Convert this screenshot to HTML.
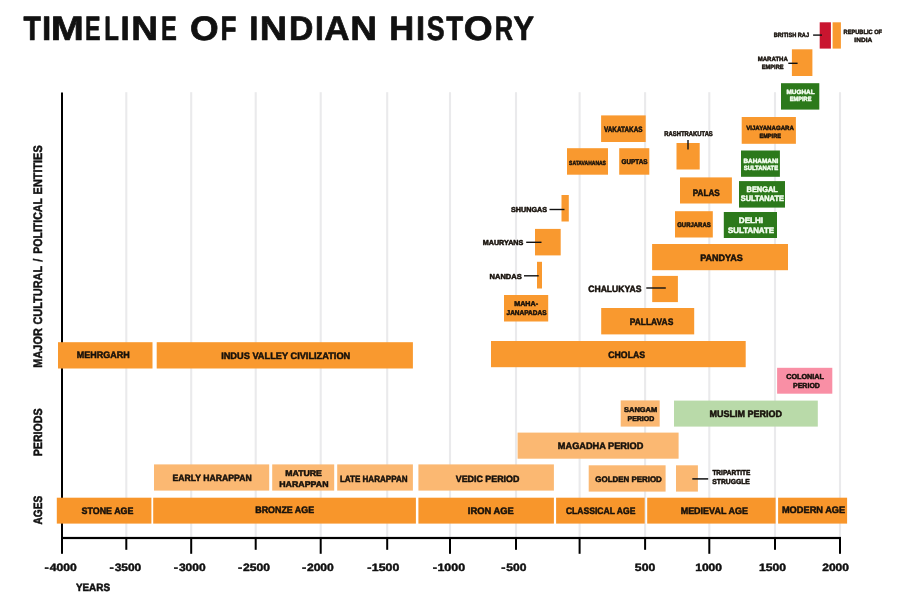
<!DOCTYPE html>
<html lang="en"><head><meta charset="utf-8"><title>Timeline of Indian History</title>
<style>html,body{margin:0;padding:0;background:#fff}body{width:900px;height:606px;overflow:hidden}svg{display:block}text{font-family:"Liberation Sans",sans-serif;font-weight:bold;stroke-linejoin:round;text-rendering:geometricPrecision}</style></head><body>
<svg width="900" height="606" viewBox="0 0 900 606">
<rect width="900" height="606" fill="#fff"/>
<g fill="#eaeaec">
<rect x="125.25" y="92.2" width="2.1" height="445"/>
<rect x="190.15" y="92.2" width="2.1" height="445"/>
<rect x="254.65" y="92.2" width="2.1" height="445"/>
<rect x="319.65" y="92.2" width="2.1" height="445"/>
<rect x="386.15" y="92.2" width="2.1" height="445"/>
<rect x="448.95" y="92.2" width="2.1" height="445"/>
<rect x="514.95" y="92.2" width="2.1" height="445"/>
<rect x="578.55" y="92.2" width="2.1" height="445"/>
<rect x="644.05" y="92.2" width="2.1" height="445"/>
<rect x="708.25" y="92.2" width="2.1" height="445"/>
<rect x="773.95" y="92.2" width="2.1" height="445"/>
<rect x="838.95" y="92.2" width="2.1" height="445"/>
</g>
<g fill="#000">
<rect x="61" y="92.5" width="2" height="461.3"/>
<rect x="61" y="536.9" width="780" height="2.2"/>
<rect x="125.30" y="538.5" width="2" height="11.3"/>
<rect x="190.20" y="538.5" width="2" height="15.3"/>
<rect x="254.70" y="538.5" width="2" height="11.3"/>
<rect x="319.70" y="538.5" width="2" height="15.3"/>
<rect x="386.20" y="538.5" width="2" height="11.3"/>
<rect x="449.00" y="538.5" width="2" height="15.3"/>
<rect x="515.00" y="538.5" width="2" height="11.3"/>
<rect x="578.60" y="538.5" width="2" height="15.3"/>
<rect x="644.10" y="538.5" width="2" height="11.3"/>
<rect x="708.30" y="538.5" width="2" height="15.3"/>
<rect x="774.00" y="538.5" width="2" height="11.3"/>
<rect x="839.00" y="538.5" width="2" height="15.3"/>
</g>
<rect x="56.80" y="497.70" width="94.60" height="25.90" fill="#F8962B"/>
<rect x="153.20" y="497.70" width="262.70" height="25.90" fill="#F8962B"/>
<rect x="418.40" y="497.70" width="135.50" height="25.90" fill="#F8962B"/>
<rect x="556.10" y="497.70" width="88.60" height="25.90" fill="#F8962B"/>
<rect x="647.20" y="497.70" width="128.40" height="25.90" fill="#F8962B"/>
<rect x="778.10" y="497.70" width="69.00" height="25.90" fill="#F8962B"/>
<rect x="154.00" y="464.40" width="115.20" height="26.20" fill="#FBB872"/>
<rect x="272.20" y="464.40" width="62.00" height="26.20" fill="#FBB872"/>
<rect x="337.20" y="464.40" width="75.70" height="26.20" fill="#FBB872"/>
<rect x="418.40" y="464.40" width="135.50" height="26.20" fill="#FBB872"/>
<rect x="588.70" y="465.30" width="76.90" height="26.30" fill="#FBB872"/>
<rect x="676.00" y="465.30" width="21.90" height="26.30" fill="#FBB872"/>
<rect x="517.60" y="432.60" width="161.00" height="26.10" fill="#FBB872"/>
<rect x="620.70" y="400.40" width="39.00" height="26.20" fill="#FBB872"/>
<rect x="674.00" y="400.60" width="143.80" height="26.00" fill="#B9DAA9"/>
<rect x="777.10" y="367.80" width="55.20" height="25.90" fill="#F98FA5"/>
<rect x="58.00" y="342.20" width="94.50" height="26.30" fill="#F9992F"/>
<rect x="156.70" y="342.20" width="256.20" height="26.30" fill="#F9992F"/>
<rect x="491.00" y="341.00" width="254.70" height="26.20" fill="#F9992F"/>
<rect x="601.20" y="308.00" width="93.00" height="26.40" fill="#F9992F"/>
<rect x="504.00" y="295.00" width="44.20" height="26.50" fill="#F9992F"/>
<rect x="652.20" y="275.90" width="25.70" height="26.20" fill="#F9992F"/>
<rect x="537.00" y="261.80" width="5.00" height="26.70" fill="#F9992F"/>
<rect x="652.10" y="244.00" width="135.90" height="26.20" fill="#F9992F"/>
<rect x="535.00" y="228.90" width="25.70" height="26.50" fill="#F9992F"/>
<rect x="675.00" y="211.20" width="37.80" height="26.30" fill="#F9992F"/>
<rect x="723.80" y="212.00" width="53.20" height="26.00" fill="#2C791B"/>
<rect x="561.50" y="195.00" width="7.30" height="26.50" fill="#F9992F"/>
<rect x="680.00" y="177.40" width="51.90" height="26.10" fill="#F9992F"/>
<rect x="739.00" y="181.10" width="46.00" height="26.50" fill="#2C791B"/>
<rect x="567.00" y="148.20" width="41.00" height="26.50" fill="#F9992F"/>
<rect x="619.20" y="148.20" width="30.10" height="26.50" fill="#F9992F"/>
<rect x="676.50" y="143.00" width="23.20" height="26.50" fill="#F9992F"/>
<rect x="741.00" y="150.50" width="38.90" height="26.30" fill="#2C791B"/>
<rect x="601.10" y="115.40" width="44.60" height="26.60" fill="#F9992F"/>
<rect x="741.70" y="117.00" width="54.20" height="26.80" fill="#F9992F"/>
<rect x="781.00" y="83.20" width="38.30" height="26.40" fill="#2C791B"/>
<rect x="791.90" y="49.30" width="20.50" height="26.70" fill="#F9992F"/>
<rect x="819.70" y="22.30" width="11.20" height="26.30" fill="#C9152F"/>
<rect x="832.60" y="22.30" width="8.30" height="26.30" fill="#F9992F"/>
<g stroke="#111" fill="none">
<line x1="813.1" y1="35.1" x2="822" y2="35.1" stroke-width="1.4"/>
<line x1="788.3" y1="63.3" x2="797.6" y2="63.3" stroke-width="1.4"/>
<line x1="688" y1="140" x2="688" y2="149.5" stroke-width="1.4"/>
<line x1="549.5" y1="209.5" x2="564.5" y2="209.5" stroke-width="1.4"/>
<line x1="526.2" y1="242.3" x2="541.5" y2="242.3" stroke-width="1.4"/>
<line x1="524" y1="275.8" x2="538.7" y2="275.8" stroke-width="1.4"/>
<line x1="646.3" y1="288" x2="665.8" y2="288" stroke-width="1.4"/>
<line x1="692.3" y1="478.9" x2="708.2" y2="478.9" stroke-width="1.5"/>
</g>
<g style="filter:grayscale(0)">
<text y="40.45" font-size="33.87" fill="#111" stroke="#111" stroke-width="0.7"><tspan x="23.53" textLength="17.43" lengthAdjust="spacingAndGlyphs">T</tspan><tspan x="42.12" textLength="9.26" lengthAdjust="spacingAndGlyphs">I</tspan><tspan x="50.69" textLength="33.12" lengthAdjust="spacingAndGlyphs">M</tspan><tspan x="84.99" textLength="15.57" lengthAdjust="spacingAndGlyphs">E</tspan><tspan x="104.25" textLength="14.64" lengthAdjust="spacingAndGlyphs">L</tspan><tspan x="120.62" textLength="9.26" lengthAdjust="spacingAndGlyphs">I</tspan><tspan x="131.37" textLength="26.78" lengthAdjust="spacingAndGlyphs">N</tspan><tspan x="160.96" textLength="15.81" lengthAdjust="spacingAndGlyphs">E</tspan> <tspan x="190.04" textLength="28.66" lengthAdjust="spacingAndGlyphs">O</tspan><tspan x="220.40" textLength="16.01" lengthAdjust="spacingAndGlyphs">F</tspan> <tspan x="249.32" textLength="9.26" lengthAdjust="spacingAndGlyphs">I</tspan><tspan x="259.81" textLength="27.39" lengthAdjust="spacingAndGlyphs">N</tspan><tspan x="288.89" textLength="24.38" lengthAdjust="spacingAndGlyphs">D</tspan><tspan x="314.91" textLength="8.87" lengthAdjust="spacingAndGlyphs">I</tspan><tspan x="324.28" textLength="25.30" lengthAdjust="spacingAndGlyphs">A</tspan><tspan x="350.37" textLength="26.78" lengthAdjust="spacingAndGlyphs">N</tspan> <tspan x="389.24" textLength="24.94" lengthAdjust="spacingAndGlyphs">H</tspan><tspan x="415.97" textLength="9.07" lengthAdjust="spacingAndGlyphs">I</tspan><tspan x="426.78" textLength="17.92" lengthAdjust="spacingAndGlyphs">S</tspan><tspan x="446.24" textLength="16.91" lengthAdjust="spacingAndGlyphs">T</tspan><tspan x="463.83" textLength="28.88" lengthAdjust="spacingAndGlyphs">O</tspan><tspan x="494.85" textLength="18.32" lengthAdjust="spacingAndGlyphs">R</tspan><tspan x="513.62" textLength="20.52" lengthAdjust="spacingAndGlyphs">Y</tspan></text>
<text x="81.59" y="513.65" font-size="9.45" fill="#17110b" stroke="#17110b" stroke-width="0.5" textLength="51.80" lengthAdjust="spacingAndGlyphs">STONE AGE</text>
<text x="255.26" y="512.55" font-size="9.45" fill="#17110b" stroke="#17110b" stroke-width="0.5" textLength="58.84" lengthAdjust="spacingAndGlyphs">BRONZE AGE</text>
<text x="467.82" y="513.75" font-size="9.45" fill="#17110b" stroke="#17110b" stroke-width="0.5" textLength="45.89" lengthAdjust="spacingAndGlyphs">IRON AGE</text>
<text x="565.90" y="513.75" font-size="9.45" fill="#17110b" stroke="#17110b" stroke-width="0.5" textLength="69.49" lengthAdjust="spacingAndGlyphs">CLASSICAL AGE</text>
<text x="680.65" y="513.65" font-size="9.45" fill="#17110b" stroke="#17110b" stroke-width="0.5" textLength="67.25" lengthAdjust="spacingAndGlyphs">MEDIEVAL AGE</text>
<text x="781.93" y="512.55" font-size="9.45" fill="#17110b" stroke="#17110b" stroke-width="0.5" textLength="63.28" lengthAdjust="spacingAndGlyphs">MODERN AGE</text>
<text x="172.57" y="481.45" font-size="9.16" fill="#17110b" stroke="#17110b" stroke-width="0.5" textLength="79.06" lengthAdjust="spacingAndGlyphs">EARLY HARAPPAN</text>
<text x="285.27" y="475.85" font-size="8.28" fill="#17110b" stroke="#17110b" stroke-width="0.5" textLength="36.62" lengthAdjust="spacingAndGlyphs">MATURE</text>
<text x="279.26" y="486.65" font-size="8.28" fill="#17110b" stroke="#17110b" stroke-width="0.5" textLength="49.28" lengthAdjust="spacingAndGlyphs">HARAPPAN</text>
<text x="339.91" y="481.50" font-size="9.01" fill="#17110b" stroke="#17110b" stroke-width="0.5" textLength="67.68" lengthAdjust="spacingAndGlyphs">LATE HARAPPAN</text>
<text x="455.79" y="481.55" font-size="9.16" fill="#17110b" stroke="#17110b" stroke-width="0.5" textLength="63.63" lengthAdjust="spacingAndGlyphs">VEDIC PERIOD</text>
<text x="595.33" y="481.50" font-size="8.14" fill="#17110b" stroke="#17110b" stroke-width="0.5" textLength="66.46" lengthAdjust="spacingAndGlyphs">GOLDEN PERIOD</text>
<text x="712.38" y="475.35" font-size="7.12" fill="#17110b" stroke="#17110b" stroke-width="0.5" textLength="37.93" lengthAdjust="spacingAndGlyphs">TRIPARTITE</text>
<text x="712.26" y="484.05" font-size="7.12" fill="#17110b" stroke="#17110b" stroke-width="0.5" textLength="37.56" lengthAdjust="spacingAndGlyphs">STRUGGLE</text>
<text x="557.83" y="449.15" font-size="9.45" fill="#17110b" stroke="#17110b" stroke-width="0.5" textLength="85.50" lengthAdjust="spacingAndGlyphs">MAGADHA PERIOD</text>
<text x="624.03" y="411.60" font-size="6.98" fill="#17110b" stroke="#17110b" stroke-width="0.5" textLength="33.22" lengthAdjust="spacingAndGlyphs">SANGAM</text>
<text x="627.48" y="420.70" font-size="6.98" fill="#17110b" stroke="#17110b" stroke-width="0.5" textLength="26.86" lengthAdjust="spacingAndGlyphs">PERIOD</text>
<text x="709.55" y="416.80" font-size="9.30" fill="#17110b" stroke="#17110b" stroke-width="0.5" textLength="72.58" lengthAdjust="spacingAndGlyphs">MUSLIM PERIOD</text>
<text x="786.15" y="378.70" font-size="7.27" fill="#17110b" stroke="#17110b" stroke-width="0.5" textLength="37.92" lengthAdjust="spacingAndGlyphs">COLONIAL</text>
<text x="792.98" y="387.60" font-size="7.27" fill="#17110b" stroke="#17110b" stroke-width="0.5" textLength="26.97" lengthAdjust="spacingAndGlyphs">PERIOD</text>
<text x="76.75" y="357.65" font-size="9.45" fill="#17110b" stroke="#17110b" stroke-width="0.5" textLength="52.91" lengthAdjust="spacingAndGlyphs">MEHRGARH</text>
<text x="221.13" y="358.65" font-size="9.45" fill="#17110b" stroke="#17110b" stroke-width="0.5" textLength="129.14" lengthAdjust="spacingAndGlyphs">INDUS VALLEY CIVILIZATION</text>
<text x="608.29" y="357.75" font-size="9.45" fill="#17110b" stroke="#17110b" stroke-width="0.5" textLength="36.80" lengthAdjust="spacingAndGlyphs">CHOLAS</text>
<text x="629.69" y="324.75" font-size="9.45" fill="#17110b" stroke="#17110b" stroke-width="0.5" textLength="43.59" lengthAdjust="spacingAndGlyphs">PALLAVAS</text>
<text x="514.27" y="306.30" font-size="6.98" fill="#17110b" stroke="#17110b" stroke-width="0.5" textLength="23.76" lengthAdjust="spacingAndGlyphs">MAHA-</text>
<text x="506.55" y="314.60" font-size="6.98" fill="#17110b" stroke="#17110b" stroke-width="0.5" textLength="39.95" lengthAdjust="spacingAndGlyphs">JANAPADAS</text>
<text x="588.20" y="291.55" font-size="9.16" fill="#17110b" stroke="#17110b" stroke-width="0.5" textLength="53.29" lengthAdjust="spacingAndGlyphs">CHALUKYAS</text>
<text x="489.55" y="278.85" font-size="7.12" fill="#17110b" stroke="#17110b" stroke-width="0.5" textLength="32.09" lengthAdjust="spacingAndGlyphs">NANDAS</text>
<text x="700.25" y="260.60" font-size="9.30" fill="#17110b" stroke="#17110b" stroke-width="0.5" textLength="42.55" lengthAdjust="spacingAndGlyphs">PANDYAS</text>
<text x="482.77" y="244.85" font-size="7.12" fill="#17110b" stroke="#17110b" stroke-width="0.5" textLength="40.56" lengthAdjust="spacingAndGlyphs">MAURYANS</text>
<text x="677.21" y="226.60" font-size="6.69" fill="#17110b" stroke="#17110b" stroke-width="0.5" textLength="33.48" lengthAdjust="spacingAndGlyphs">GURJARAS</text>
<text x="738.81" y="222.90" font-size="7.85" fill="#f6fff2" stroke="#f6fff2" stroke-width="0.5" textLength="24.28" lengthAdjust="spacingAndGlyphs">DELHI</text>
<text x="728.02" y="232.65" font-size="7.99" fill="#f6fff2" stroke="#f6fff2" stroke-width="0.5" textLength="46.04" lengthAdjust="spacingAndGlyphs">SULTANATE</text>
<text x="511.04" y="212.05" font-size="7.12" fill="#17110b" stroke="#17110b" stroke-width="0.5" textLength="35.99" lengthAdjust="spacingAndGlyphs">SHUNGAS</text>
<text x="692.70" y="195.60" font-size="9.30" fill="#17110b" stroke="#17110b" stroke-width="0.5" textLength="27.07" lengthAdjust="spacingAndGlyphs">PALAS</text>
<text x="746.55" y="191.80" font-size="7.85" fill="#f6fff2" stroke="#f6fff2" stroke-width="0.5" textLength="31.32" lengthAdjust="spacingAndGlyphs">BENGAL</text>
<text x="740.84" y="201.05" font-size="7.99" fill="#f6fff2" stroke="#f6fff2" stroke-width="0.5" textLength="43.00" lengthAdjust="spacingAndGlyphs">SULTANATE</text>
<text x="569.08" y="164.58" font-size="6.03" fill="#17110b" stroke="#17110b" stroke-width="0.45" textLength="36.89" lengthAdjust="spacingAndGlyphs">SATAVAHANAS</text>
<text x="621.49" y="164.20" font-size="6.98" fill="#17110b" stroke="#17110b" stroke-width="0.5" textLength="26.01" lengthAdjust="spacingAndGlyphs">GUPTAS</text>
<text x="664.36" y="136.10" font-size="6.98" fill="#17110b" stroke="#17110b" stroke-width="0.5" textLength="48.42" lengthAdjust="spacingAndGlyphs">RASHTRAKUTAS</text>
<text x="743.50" y="162.82" font-size="6.18" fill="#f6fff2" stroke="#f6fff2" stroke-width="0.45" textLength="34.81" lengthAdjust="spacingAndGlyphs">BAHAMANI</text>
<text x="743.76" y="170.03" font-size="6.18" fill="#f6fff2" stroke="#f6fff2" stroke-width="0.45" textLength="34.35" lengthAdjust="spacingAndGlyphs">SULTANATE</text>
<text x="604.01" y="131.60" font-size="7.85" fill="#17110b" stroke="#17110b" stroke-width="0.5" textLength="38.49" lengthAdjust="spacingAndGlyphs">VAKATAKAS</text>
<text x="746.18" y="130.03" font-size="6.18" fill="#17110b" stroke="#17110b" stroke-width="0.45" textLength="47.75" lengthAdjust="spacingAndGlyphs">VIJAYANAGARA</text>
<text x="759.45" y="137.53" font-size="6.18" fill="#17110b" stroke="#17110b" stroke-width="0.45" textLength="21.55" lengthAdjust="spacingAndGlyphs">EMPIRE</text>
<text x="786.50" y="93.72" font-size="6.18" fill="#f6fff2" stroke="#f6fff2" stroke-width="0.45" textLength="28.18" lengthAdjust="spacingAndGlyphs">MUGHAL</text>
<text x="789.85" y="101.42" font-size="6.18" fill="#f6fff2" stroke="#f6fff2" stroke-width="0.45" textLength="21.55" lengthAdjust="spacingAndGlyphs">EMPIRE</text>
<text x="757.72" y="60.92" font-size="6.18" fill="#17110b" stroke="#17110b" stroke-width="0.45" textLength="30.11" lengthAdjust="spacingAndGlyphs">MARATHA</text>
<text x="761.74" y="68.72" font-size="6.18" fill="#17110b" stroke="#17110b" stroke-width="0.45" textLength="21.85" lengthAdjust="spacingAndGlyphs">EMPIRE</text>
<text x="773.75" y="37.33" font-size="6.18" fill="#17110b" stroke="#17110b" stroke-width="0.45" textLength="35.31" lengthAdjust="spacingAndGlyphs">BRITISH RAJ</text>
<text x="843.54" y="33.82" font-size="6.18" fill="#17110b" stroke="#17110b" stroke-width="0.45" textLength="38.54" lengthAdjust="spacingAndGlyphs">REPUBLIC OF</text>
<text x="854.39" y="41.62" font-size="6.18" fill="#17110b" stroke="#17110b" stroke-width="0.45" textLength="17.86" lengthAdjust="spacingAndGlyphs">INDIA</text>
<text x="75.91" y="591.48" font-size="10.68" fill="#111" stroke="#111" stroke-width="0.55" textLength="34.11" lengthAdjust="spacingAndGlyphs">YEARS</text>
<text y="570.67" font-size="10.68" fill="#111" stroke="#111" stroke-width="0.45"><tspan x="44.63" textLength="4.26" lengthAdjust="spacingAndGlyphs">-</tspan><tspan x="49.84" textLength="27.03" lengthAdjust="spacingAndGlyphs">4000</tspan></text>
<text y="570.67" font-size="10.68" fill="#111" stroke="#111" stroke-width="0.45"><tspan x="109.53" textLength="4.26" lengthAdjust="spacingAndGlyphs">-</tspan><tspan x="114.65" textLength="26.62" lengthAdjust="spacingAndGlyphs">3500</tspan></text>
<text y="570.67" font-size="10.68" fill="#111" stroke="#111" stroke-width="0.45"><tspan x="173.83" textLength="4.26" lengthAdjust="spacingAndGlyphs">-</tspan><tspan x="178.95" textLength="26.72" lengthAdjust="spacingAndGlyphs">3000</tspan></text>
<text y="570.67" font-size="10.68" fill="#111" stroke="#111" stroke-width="0.45"><tspan x="238.13" textLength="4.26" lengthAdjust="spacingAndGlyphs">-</tspan><tspan x="243.10" textLength="26.97" lengthAdjust="spacingAndGlyphs">2500</tspan></text>
<text y="570.67" font-size="10.68" fill="#111" stroke="#111" stroke-width="0.45"><tspan x="301.93" textLength="4.26" lengthAdjust="spacingAndGlyphs">-</tspan><tspan x="306.90" textLength="26.97" lengthAdjust="spacingAndGlyphs">2000</tspan></text>
<text y="570.67" font-size="10.68" fill="#111" stroke="#111" stroke-width="0.45"><tspan x="367.23" textLength="4.26" lengthAdjust="spacingAndGlyphs">-</tspan><tspan x="371.85" textLength="27.43" lengthAdjust="spacingAndGlyphs">1500</tspan></text>
<text y="570.67" font-size="10.68" fill="#111" stroke="#111" stroke-width="0.45"><tspan x="432.83" textLength="4.26" lengthAdjust="spacingAndGlyphs">-</tspan><tspan x="437.44" textLength="27.64" lengthAdjust="spacingAndGlyphs">1000</tspan></text>
<text y="570.67" font-size="10.68" fill="#111" stroke="#111" stroke-width="0.45"><tspan x="501.33" textLength="4.26" lengthAdjust="spacingAndGlyphs">-</tspan><tspan x="506.35" textLength="20.12" lengthAdjust="spacingAndGlyphs">500</tspan></text>
<text y="570.67" font-size="10.68" fill="#111" stroke="#111" stroke-width="0.45"><tspan x="634.85" textLength="20.43" lengthAdjust="spacingAndGlyphs">500</tspan></text>
<text y="570.67" font-size="10.68" fill="#111" stroke="#111" stroke-width="0.45"><tspan x="695.16" textLength="26.91" lengthAdjust="spacingAndGlyphs">1000</tspan></text>
<text y="570.67" font-size="10.68" fill="#111" stroke="#111" stroke-width="0.45"><tspan x="758.96" textLength="27.01" lengthAdjust="spacingAndGlyphs">1500</tspan></text>
<text y="570.67" font-size="10.68" fill="#111" stroke="#111" stroke-width="0.45"><tspan x="822.21" textLength="26.76" lengthAdjust="spacingAndGlyphs">2000</tspan></text>
<text transform="translate(42.15 367.20) rotate(-90)" y="0" font-size="12.35" fill="#111" stroke="#111" stroke-width="0.5"><tspan x="-0.48" textLength="39.45" lengthAdjust="spacingAndGlyphs">MAJOR</tspan> <tspan x="42.70" textLength="58.38" lengthAdjust="spacingAndGlyphs">CULTURAL</tspan> <tspan x="105.13" textLength="3.44" lengthAdjust="spacingAndGlyphs">/</tspan> <tspan x="113.45" textLength="55.43" lengthAdjust="spacingAndGlyphs">POLITICAL</tspan> <tspan x="172.82" textLength="49.05" lengthAdjust="spacingAndGlyphs">ENTITIES</tspan></text>
<text transform="translate(42.05 455.80) rotate(-90)" x="-0.46" y="0" font-size="12.06" fill="#111" stroke="#111" stroke-width="0.5" textLength="47.83" lengthAdjust="spacingAndGlyphs">PERIODS</text>
<text transform="translate(42.05 524.50) rotate(-90)" x="-0.00" y="0" font-size="12.06" fill="#111" stroke="#111" stroke-width="0.5" textLength="28.75" lengthAdjust="spacingAndGlyphs">AGES</text>
</g>
</svg></body></html>
